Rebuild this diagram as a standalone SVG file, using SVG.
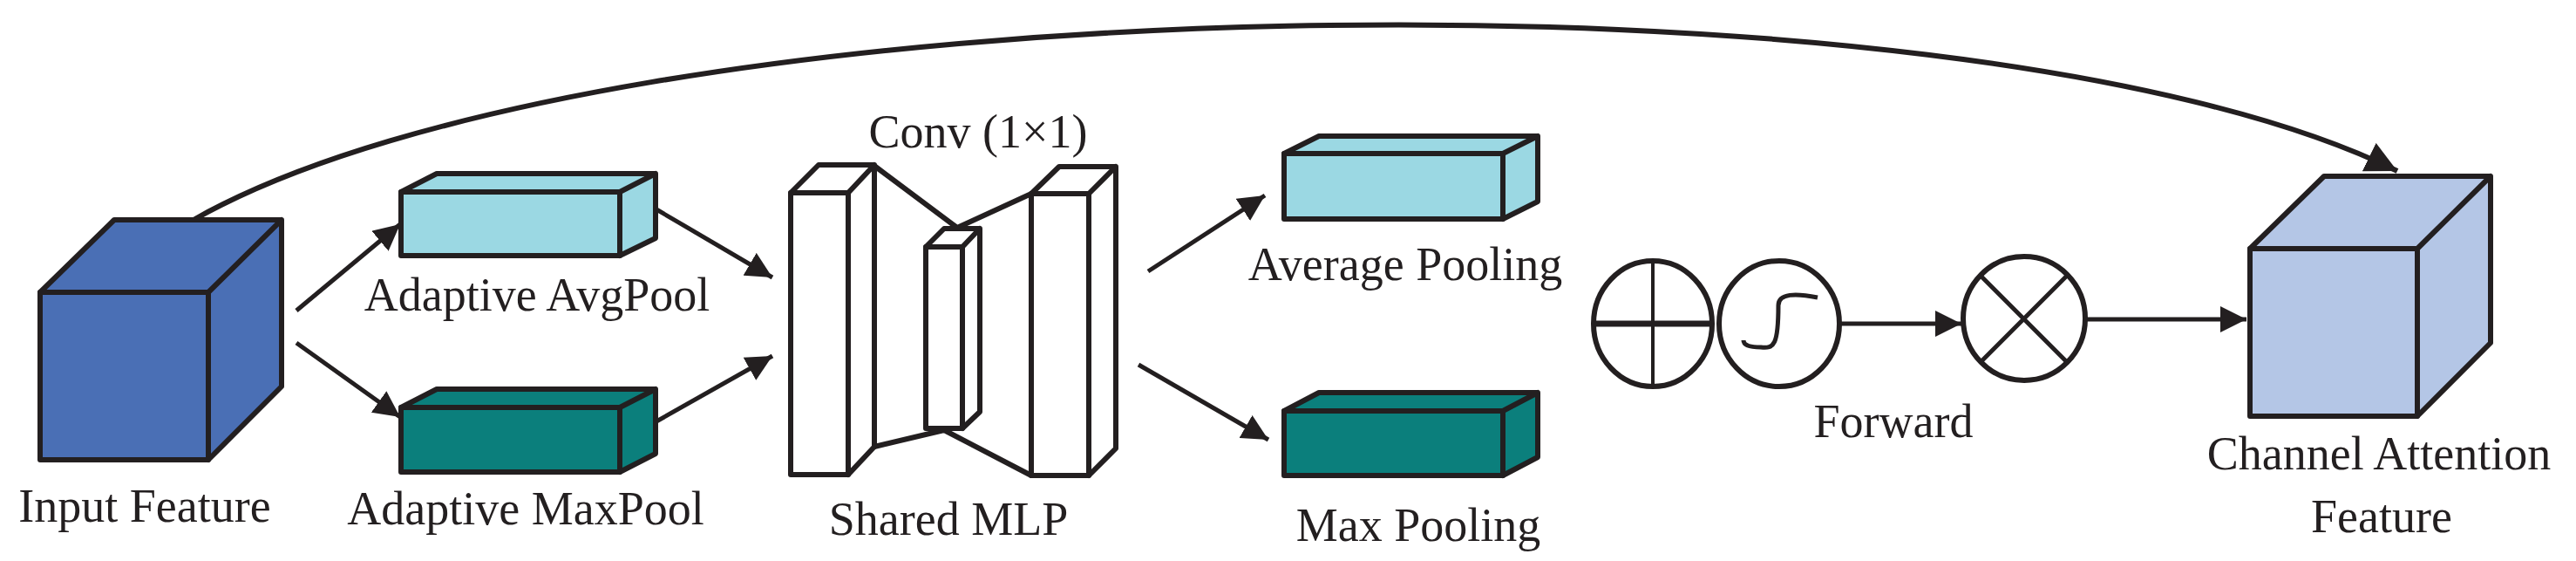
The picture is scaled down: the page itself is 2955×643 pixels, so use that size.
<svg xmlns="http://www.w3.org/2000/svg" width="2955" height="643" viewBox="0 0 2955 643">
<defs>
<style>
.e{stroke:#231f20;stroke-width:6;stroke-linejoin:round}
.c{fill:none;stroke:#231f20;stroke-width:5}
.t{font-family:"Liberation Serif",serif;font-size:54px;fill:#231f20;text-anchor:middle}
.in{fill:#4a6fb5}.av{fill:#9bd8e3}.mx{fill:#0b7f7c}.ca{fill:#b4c6e6}.w{fill:#fff}
</style>
<marker id="a" viewBox="0 0 10 10" refX="10" refY="5" markerWidth="6" markerHeight="6" markerUnits="strokeWidth" orient="auto"><path d="M0,0L10,5L0,10z" fill="#231f20"/></marker>
</defs>
<rect width="2955" height="643" fill="#fff"/>
<g id="connectors" class="c">
<path d="M222,252 C700,-20 2250,-50 2750,196" marker-end="url(#a)" stroke-width="6"/>
<line x1="340" y1="356" x2="459" y2="257" marker-end="url(#a)"/>
<line x1="340" y1="393" x2="459" y2="478" marker-end="url(#a)"/>
<line x1="753" y1="240" x2="886" y2="318" marker-end="url(#a)"/>
<line x1="753" y1="483" x2="886" y2="408" marker-end="url(#a)"/>
<line x1="1317" y1="311" x2="1451" y2="224" marker-end="url(#a)"/>
<line x1="1306" y1="418" x2="1455" y2="504" marker-end="url(#a)"/>
<line x1="2110" y1="371" x2="2250" y2="371" marker-end="url(#a)"/>
<line x1="2392" y1="366" x2="2577" y2="366" marker-end="url(#a)"/>
</g>
<g id="input">
<path class="e in" d="M46,335L131,252L323,252L239,335z M239,335L323,252L323,443L239,527z"/>
<rect class="e in" x="46" y="335" width="193" height="192"/>
<text class="t" x="166" y="598">Input Feature</text>
</g>
<g id="avgpool">
<path class="e av" d="M460,220L501,199L752,199L711,220z M711,220L752,199L752,273L711,293z"/>
<rect class="e av" x="460" y="220" width="251" height="73"/>
<text class="t" x="616" y="356">Adaptive AvgPool</text>
</g>
<g id="maxpool">
<path class="e mx" d="M460,467L501,446L752,446L711,467z M711,467L752,446L752,520L711,541z"/>
<rect class="e mx" x="460" y="467" width="251" height="74"/>
<text class="t" x="603" y="601">Adaptive MaxPool</text>
</g>
<g id="mlp">
<path class="e w" d="M1003,190L1098,261L1183,222L1183,545L1083,493L1003,512z"/>
<path class="e w" d="M907,221L939,189L1003,189L973,221z M973,221L1003,189L1003,512L973,544z"/>
<rect class="e w" x="907" y="221" width="66" height="323"/>
<path class="e w" d="M1062,283L1083,262L1124,262L1104,283z M1104,283L1124,262L1124,472L1104,491z"/>
<rect class="e w" x="1062" y="283" width="42" height="208"/>
<path class="e w" d="M1183,222L1215,191L1280,191L1249,222z M1249,222L1280,191L1280,514L1249,545z"/>
<rect class="e w" x="1183" y="222" width="66" height="323"/>
<text class="t" x="1122" y="169">Conv (1×1)</text>
<text class="t" x="1088" y="613">Shared MLP</text>
</g>
<g id="avgpooling">
<path class="e av" d="M1473,176L1513,156L1764,156L1724,176z M1724,176L1764,156L1764,231L1724,251z"/>
<rect class="e av" x="1473" y="176" width="251" height="75"/>
<text class="t" x="1612" y="321">Average Pooling</text>
</g>
<g id="maxpooling">
<path class="e mx" d="M1473,471L1513,450L1764,450L1724,471z M1724,471L1764,450L1764,524L1724,545z"/>
<rect class="e mx" x="1473" y="471" width="251" height="74"/>
<text class="t" x="1627" y="620">Max Pooling</text>
</g>
<g id="add">
<ellipse class="e w" cx="1896" cy="371" rx="68" ry="72"/>
<line x1="1828" y1="371" x2="1964" y2="371" stroke="#231f20" stroke-width="7"/>
<line x1="1896" y1="299" x2="1896" y2="443" stroke="#231f20" stroke-width="4"/>
</g>
<g id="sigmoid">
<ellipse class="e w" cx="2041" cy="371" rx="69" ry="72"/>
<path d="M2085,341C2060,336 2040,336 2040,350C2040,395 2035,400 2020,398C2005,398 2000,395 2000,390" fill="none" stroke="#231f20" stroke-width="5"/>
</g>
<g id="multiply">
<ellipse class="e w" cx="2322" cy="365" rx="70" ry="71"/>
<line x1="2272" y1="316" x2="2371" y2="415" stroke="#231f20" stroke-width="5"/>
<line x1="2371" y1="316" x2="2272" y2="415" stroke="#231f20" stroke-width="5"/>
<text class="t" x="2172" y="501">Forward</text>
</g>
<g id="channel">
<path class="e ca" d="M2581,285L2666,202L2857,202L2773,285z M2773,285L2857,202L2857,393L2773,477z"/>
<rect class="e ca" x="2581" y="285" width="192" height="192"/>
<text class="t" x="2729" y="538">Channel Attention</text>
<text class="t" x="2732" y="610">Feature</text>
</g>
</svg>
